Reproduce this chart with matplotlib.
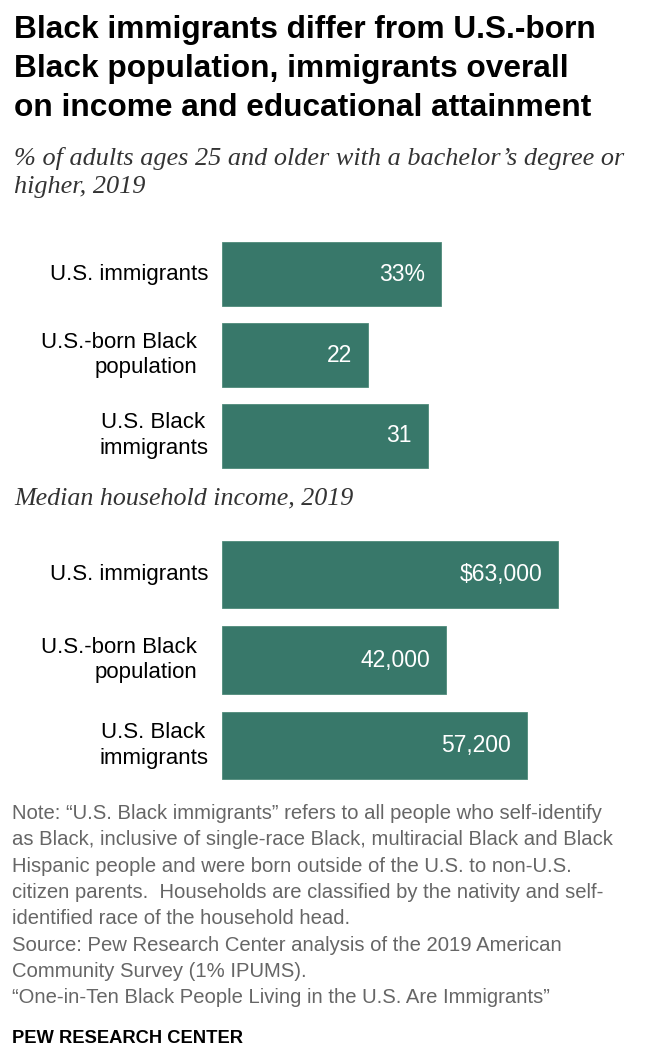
import matplotlib
matplotlib.use("Agg")
import matplotlib.pyplot as plt

# --------------------------
# Data
# --------------------------
groups = ["U.S. immigrants", "U.S.-born Black\npopulation", "U.S. Black\nimmigrants"]
group_align = ["right", "right", "center"]
pct_bachelor = [33, 22, 31]
pct_labels = ["33%", "22", "31"]
median_income = [63000, 42000, 57200]
income_labels = ["$63,000", "42,000", "57,200"]

title = ("Black immigrants differ from U.S.-born\n"
         "Black population, immigrants overall\n"
         "on income and educational attainment")
subtitle1 = "% of adults ages 25 and older with a bachelor\u2019s degree or\nhigher, 2019"
subtitle2 = "Median household income, 2019"
note = ("Note: \u201cU.S. Black immigrants\u201d refers to all people who self-identify\n"
        "as Black, inclusive of single-race Black, multiracial Black and Black\n"
        "Hispanic people and were born outside of the U.S. to non-U.S.\n"
        "citizen parents.  Households are classified by the nativity and self-\n"
        "identified race of the household head.\n"
        "Source: Pew Research Center analysis of the 2019 American\n"
        "Community Survey (1% IPUMS).\n"
        "\u201cOne-in-Ten Black People Living in the U.S. Are Immigrants\u201d")

BAR_COLOR = "#38786a"
SANS = ["Liberation Sans", "DejaVu Sans"]
SERIF = ["Liberation Serif", "DejaVu Serif"]

W, H = 648, 1058
fig = plt.figure(figsize=(W / 100, H / 100), dpi=100)


def fx(px):
    return px / W


def fy(py):
    return 1 - py / H


def add_bar_axes(top, bottom, xmax_px, scale_px, values, labels, label_gap):
    # axes placed in pixel space; xlim chosen so value*scale = bar length in px
    left = 222
    ax = fig.add_axes([fx(left), fy(bottom), fx(xmax_px - left), (bottom - top) / H])
    ax.set_xlim(0, (xmax_px - left) / scale_px)
    ax.set_ylim(2.5, -0.5)
    ypos = range(len(values))
    ax.barh(ypos, values, height=0.79, color=BAR_COLOR, edgecolor="#4f8a7a", linewidth=0.6)
    for y, v, lab in zip(ypos, values, labels):
        ax.annotate(lab, xy=(v, y), xytext=(-16, 0), textcoords="offset pixels",
                    ha="right", va="center", color="white", fontsize=16.5, family=SANS)
    for y, g, al, gap in zip(ypos, groups, group_align, label_gap):
        ax.annotate(g, xy=(0, y), xycoords=("axes fraction", "data"),
                    xytext=(-gap, 0), textcoords="offset pixels",
                    ha="right", va="center", multialignment=al,
                    fontsize=16, family=SANS, linespacing=1.3)
    ax.set_xticks([])
    ax.set_yticks([])
    for s in ax.spines.values():
        s.set_visible(False)
    return ax


fig.text(fx(14), fy(15), title, ha="left", va="top", fontsize=22.8, fontweight="bold",
         family=SANS, linespacing=1.4)
fig.text(fx(14), fy(147), subtitle1, ha="left", va="top", fontsize=18.9, style="italic",
         family=SERIF, color="#333333", linespacing=1.38)

add_bar_axes(234, 476, 630, 219 / 33, pct_bachelor, pct_labels, [14, 25, 14])

fig.text(fx(14), fy(487), subtitle2, ha="left", va="top", fontsize=18.7, style="italic",
         family=SERIF, color="#333333")

add_bar_axes(532, 788, 630, 336 / 63000, median_income, income_labels, [14, 25, 14])

fig.text(fx(12), fy(804), note, ha="left", va="top", fontsize=14.6, color="#666666",
         family=SANS, linespacing=1.49)
fig.text(fx(12), fy(1030), "PEW RESEARCH CENTER", ha="left", va="top", fontsize=13.2,
         fontweight="bold", family=SANS)

fig.savefig("out.png", dpi=100)
